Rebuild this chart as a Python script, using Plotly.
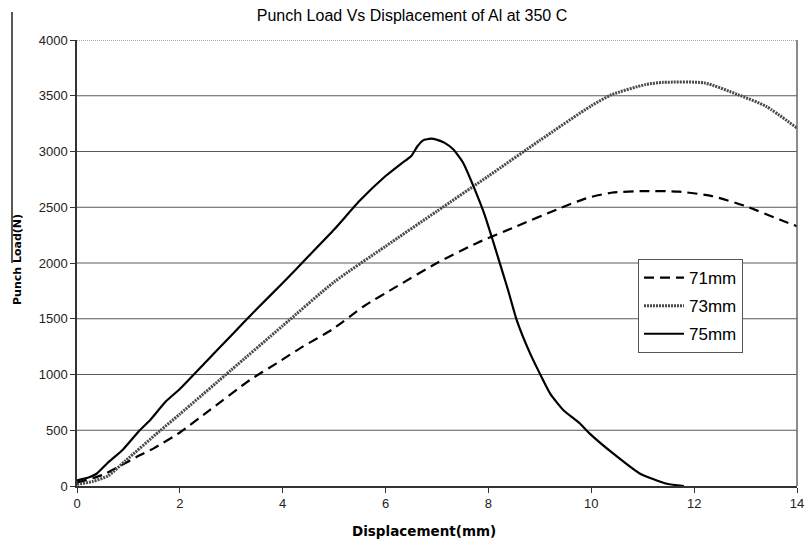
import plotly.graph_objects as go

# 71mm (dashed)
x71 = [0.0, 0.5, 1.0, 1.22, 1.5, 2.0, 2.58, 3.36, 3.88, 4.39, 4.95, 5.57, 6.22, 7.0, 7.78, 8.55, 9.33, 9.9, 10.39, 11.05, 11.7, 12.35, 13.0, 13.66, 14.0]
y71 = [30, 100, 220, 275, 340, 480, 680, 950, 1100, 1250, 1400, 1610, 1790, 2000, 2180, 2330, 2480, 2580, 2630, 2645, 2640, 2600, 2510, 2390, 2330]

# 73mm (dotted grey)
x73 = [0.0, 0.3, 0.6, 0.95, 1.6, 2.0, 3.0, 4.0, 5.0, 6.0, 7.0, 8.0, 9.0, 10.0, 10.4, 11.05, 11.4, 12.2, 12.85, 13.4, 14.0]
y73 = [15, 40, 90, 229, 490, 645, 1041, 1437, 1830, 2150, 2465, 2780, 3100, 3410, 3510, 3600, 3620, 3615, 3510, 3405, 3210]

# 75mm (solid)
x75 = [0.0, 0.25, 0.38, 0.58, 0.9, 1.22, 1.42, 1.73, 2.0, 2.5, 3.0, 3.5, 4.0, 4.5, 5.0, 5.5, 6.0, 6.3, 6.5, 6.62, 6.73, 6.88, 6.99, 7.15, 7.32, 7.51, 7.71, 7.92, 8.1, 8.38, 8.55, 8.81, 9.03, 9.2, 9.46, 9.78, 9.97, 10.43, 10.95, 11.47, 11.8]
y75 = [50, 80, 110, 200, 330, 500, 590, 760, 870, 1110, 1350, 1590, 1820, 2060, 2300, 2560, 2780, 2890, 2960, 3047, 3100, 3115, 3107, 3077, 3017, 2897, 2687, 2440, 2180, 1760, 1488, 1189, 980, 829, 679, 560, 470, 290, 110, 20, 0]

x_ticks = [0, 2, 4, 6, 8, 10, 12, 14]
y_ticks = [0, 500, 1000, 1500, 2000, 2500, 3000, 3500, 4000]

fig = go.Figure()
fig.add_trace(go.Scatter(x=x71, y=y71, mode="lines", name="71mm", legendgroup="a",
                         line=dict(color="black", width=2.2, dash="10px,6px", shape="spline", smoothing=0.6)))
fig.add_trace(go.Scatter(x=x73, y=y73, mode="lines", name="73mm", legendgroup="b",
                         line=dict(color="#4a4a4a", width=3, dash="2px,1px", shape="spline", smoothing=0.6)))
fig.add_trace(go.Scatter(x=x75, y=y75, mode="lines", name="75mm", legendgroup="c",
                         line=dict(color="black", width=2.2, shape="spline", smoothing=0.5)))

W, H = 805, 543
ml, mr, mt, mb = 77, 8, 40, 57
ph = H - mt - mb
pw = W - ml - mr

# gridlines (solid grey) except the top one (dotted)
for v in y_ticks[1:-1]:
    fig.add_shape(type="line", xref="paper", yref="y", x0=0, x1=1, y0=v, y1=v,
                  line=dict(color="#5a5a5a", width=1), layer="below")
fig.add_shape(type="line", xref="paper", yref="y", x0=0, x1=1, y0=4000, y1=4000,
              line=dict(color="#555555", width=1, dash="1px,1px"), layer="below")
# right border
fig.add_shape(type="line", xref="paper", yref="paper", x0=1, x1=1, y0=0, y1=1,
              line=dict(color="#666666", width=1.5))
# stray edge line at far left
fig.add_shape(type="line", xref="paper", yref="paper",
              x0=(12 - ml) / pw, x1=(12 - ml) / pw,
              y0=1 + (mt - 12) / ph, y1=1 - (263 - mt) / ph,
              line=dict(color="#222222", width=1.5))

fig.update_layout(
    width=W, height=H,
    margin=dict(l=ml, r=mr, t=mt, b=mb, autoexpand=False),
    paper_bgcolor="white", plot_bgcolor="white",
    font=dict(family="Liberation Sans, Arial, sans-serif", color="black", size=13),
    title=dict(text="Punch Load Vs Displacement of Al at 350 C", x=412 / W, xanchor="center",
               y=1 - 15 / H, yanchor="middle", xref="container", yref="container",
               font=dict(family="Liberation Sans, Arial", size=16, color="black")),
    showlegend=True,
    legend=dict(x=(638 - ml) / pw, y=1 - (259 - mt) / ph, xanchor="left", yanchor="top",
                bgcolor="white", bordercolor="#555555", borderwidth=1,
                font=dict(family="Liberation Sans, Arial", size=17),
                tracegroupgap=3, itemwidth=40),
    annotations=[
        dict(text="<b>Displacement(mm)</b>", xref="paper", yref="paper",
             x=(424 - ml) / pw, y=-(531 - (mt + ph)) / ph, xanchor="center", yanchor="middle",
             showarrow=False, font=dict(family="DejaVu Sans, Verdana", size=13.5, color="black")),
        dict(text="<b>Punch Load(N)</b>", xref="paper", yref="paper", textangle=-90,
             x=(17 - ml) / pw, y=1 - (260 - mt) / ph, xanchor="center", yanchor="middle",
             showarrow=False, font=dict(family="DejaVu Sans, Verdana", size=11, color="black")),
    ],
)
fig.update_xaxes(range=[0, 14], tickvals=x_ticks, ticktext=[str(v) for v in x_ticks],
                 showgrid=False, zeroline=False, showline=True, linecolor="#333333", linewidth=1.5,
                 ticks="outside", ticklen=5, tickcolor="#333333", automargin=False,
                 tickfont=dict(size=13, color="#222222"))
fig.update_yaxes(range=[0, 4000], tickvals=y_ticks, ticktext=[str(v) for v in y_ticks],
                 showgrid=False, zeroline=False, showline=True, linecolor="#333333", linewidth=1.5,
                 ticks="outside", ticklen=5, tickcolor="#333333", automargin=False,
                 tickfont=dict(size=13, color="#222222"))

fig.write_html("out.html")
